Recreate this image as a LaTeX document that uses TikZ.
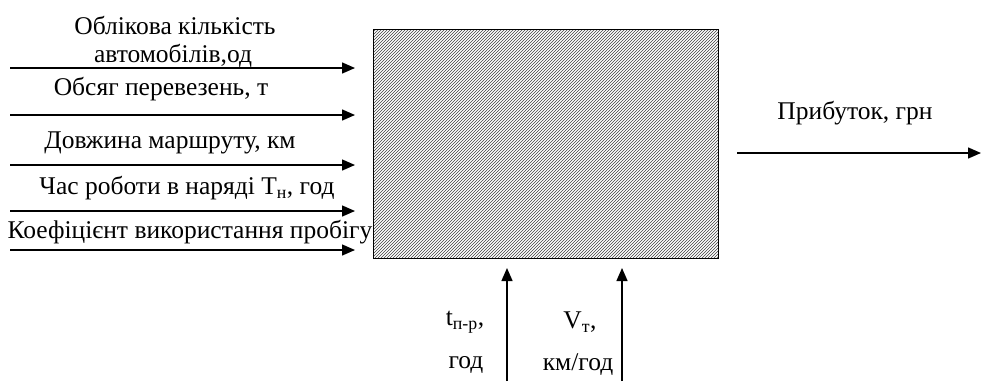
\documentclass[tikz,border=0pt]{standalone}
\usepackage{fontspec}
\setmainfont{Liberation Serif}
\usetikzlibrary{arrows.meta,patterns}
\tikzset{
  arr/.style={line width=1.4pt,-{Triangle[length=13pt,width=11pt]}},
  lbl/.style={inner sep=0pt,font=\fontsize{25.5}{28}\selectfont},
}
\begin{document}
\begin{tikzpicture}[x=1pt,y=-1pt]
\useasboundingbox (0,0) rectangle (981,381);
% main box
\node[draw,line width=1pt,pattern=north east lines,pattern color=black!75,minimum width=345pt,minimum height=229pt,anchor=north west,inner sep=0pt] (box) at (373,29) {};
% input arrows
\foreach \i/\y in {1/68,2/115,3/165,4/211,5/250}{
  \coordinate (s\i) at (10,\y);
  \coordinate (e\i) at (355,\y);
  \draw[arr] (s\i) -- (e\i);
}
\node[lbl] (t1a) at (175,25) {Облікова кількість};
\node[lbl] (t1b) at (173,56) {автомобілів,од};
\node[lbl] (t2) at (161,89) {Обсяг перевезень, т};
\node[lbl] (t3) at (170,143) {Довжина маршруту, км};
\node[lbl] (t4) at (187,188) {Час роботи в наряді Т\textsubscript{н}, год};
\node[lbl] (t5) at (190,232) {Коефіцієнт використання пробігу};
% output
\coordinate (os) at (737,153);
\coordinate (oe) at (981,153);
\draw[arr] (os) -- (oe);
\node[lbl] (out) at (855,113) {Прибуток, грн};
% bottom arrows
\coordinate (b1s) at (507,381);
\coordinate (b1e) at (507,268);
\coordinate (b2s) at (622,381);
\coordinate (b2e) at (622,268);
\draw[arr] (b1s) -- (b1e);
\draw[arr] (b2s) -- (b2e);
\node[lbl] (tpr) at (465,322) {t\textsubscript{п-р},};
\node[lbl] (god1) at (466,365) {год};
\node[lbl] (vt) at (580,322) {V\textsubscript{т},};
\node[lbl] (kmgod) at (578,365) {км/год};
\end{tikzpicture}
\end{document}
